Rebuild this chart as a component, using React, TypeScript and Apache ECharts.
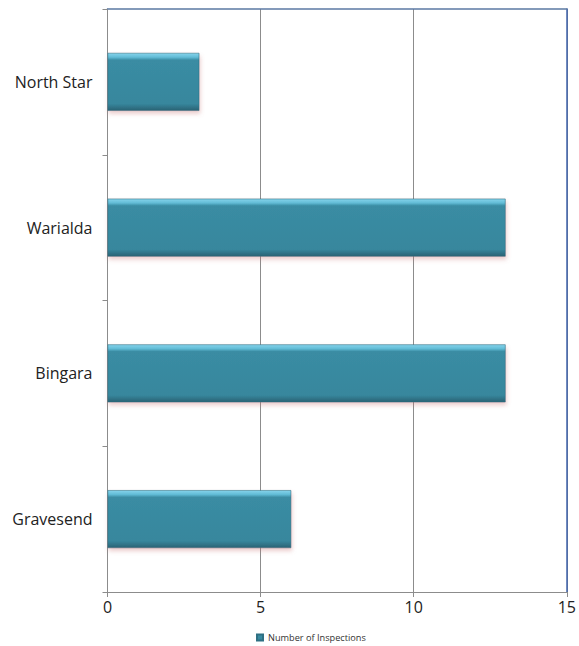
import React, { useEffect, useRef } from "react";
import * as echarts from "echarts";

const categories = ["Gravesend", "Bingara", "Warialda", "North Star"];
const inspections = [6, 13, 13, 3];
const xTicks = [0, 5, 10, 15];
const seriesName = "Number of Inspections";

export default function App() {
  const ref = useRef<HTMLDivElement>(null);
  useEffect(() => {
    if (!ref.current) return;
    const chart = echarts.init(ref.current, null, { renderer: "svg" });
    const font = "'Open Sans', 'Liberation Sans', sans-serif";
    chart.setOption({
      animation: false,
      backgroundColor: "#ffffff",
      grid: { left: 107.5, right: 10.5, top: 9, bottom: 54 },
      legend: {
        top: 633,
        left: 256,
        icon: "rect",
        itemWidth: 6,
        itemHeight: 6,
        itemGap: 3,
        padding: 0,
        textStyle: { fontSize: 9.2, color: "#333", fontFamily: font },
        data: [seriesName],
      },
      xAxis: [
        {
          type: "value",
          min: xTicks[0],
          max: xTicks[xTicks.length - 1],
          interval: 5,
          position: "bottom",
          axisLine: { show: true, lineStyle: { color: "#8c8c8c", width: 1 } },
          axisTick: { show: true, length: 5, lineStyle: { color: "#8c8c8c" } },
          axisLabel: { fontSize: 16, color: "#222", fontFamily: font, margin: 7 },
          splitLine: { show: true, lineStyle: { color: "#8c8c8c", width: 1 } },
        },
        {
          type: "value",
          min: xTicks[0],
          max: xTicks[xTicks.length - 1],
          interval: 5,
          position: "top",
          axisLine: { show: true, onZero: false, lineStyle: { color: "#5b79a3", width: 1.5 } },
          axisTick: { show: false },
          axisLabel: { show: false },
          splitLine: { show: false },
        },
      ],
      yAxis: [
        {
          type: "category",
          data: categories,
          axisLine: { show: true, onZero: false, lineStyle: { color: "#8c8c8c", width: 1 } },
          axisTick: { show: true, length: 5, lineStyle: { color: "#8c8c8c" } },
          axisLabel: { fontSize: 16, color: "#222", fontFamily: font, margin: 15 },
          splitLine: { show: false },
        },
        {
          type: "category",
          data: categories,
          position: "right",
          axisLine: { show: true, onZero: false, lineStyle: { color: "#3f63ad", width: 1.5 } },
          axisTick: { show: false },
          axisLabel: { show: false },
          splitLine: { show: false },
        },
      ],
      series: [
        {
          name: seriesName,
          type: "bar",
          data: inspections,
          barWidth: 58,
          itemStyle: {
            color: new echarts.graphic.LinearGradient(0, 0, 0, 1, [
              { offset: 0, color: "#86d4ec" },
              { offset: 0.07, color: "#62bcd6" },
              { offset: 0.12, color: "#3a8ca3" },
              { offset: 0.88, color: "#37879d" },
              { offset: 0.95, color: "#2f7185" },
              { offset: 1, color: "#2a6273" },
            ]),
            borderColor: "#2e7083",
            borderWidth: 0.6,
            shadowColor: "rgba(200, 110, 110, 0.35)",
            shadowBlur: 4,
            shadowOffsetY: 3,
            shadowOffsetX: 1,
          },
        },
      ],
    });
    return () => chart.dispose();
  }, []);
  return (
    <div
      ref={ref}
      style={{ position: "absolute", left: 0, top: 0, width: 579, height: 646 }}
    />
  );
}
